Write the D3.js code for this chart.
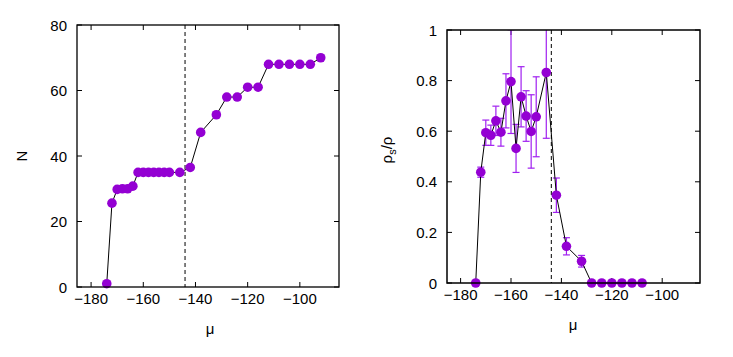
<!DOCTYPE html>
<html>
<head>
<meta charset="utf-8">
<script src="https://cdn.jsdelivr.net/npm/d3@7"></script>
<style>
  body { margin: 0; background: #fff; }
  svg text { font-family: "Liberation Sans", Arial, sans-serif; font-size: 15px; fill: #000; }
</style>
</head>
<body>
<svg id="chart" width="733" height="357"></svg>
<script>
// chemical potential values (shared by both panels)
const mu = [-174, -172, -170, -168, -166, -164, -162, -160, -158, -156, -154, -152, -150,
            -146, -142, -138, -132, -128, -124, -120, -116, -112, -108, -104, -100, -96, -92];
// left panel: particle number
const nValues = [1, 25.6, 29.8, 30, 30, 30.8, 35, 35, 35, 35, 35, 35, 35,
                 35, 36.5, 47.2, 52.6, 58, 58, 61, 61, 68, 68, 68, 68, 68, 70];
// right panel: superfluid fraction and its error
const muRho = mu.slice(0, 23);
const rhoValues = [0, 0.438, 0.594, 0.584, 0.641, 0.596, 0.720, 0.796, 0.532, 0.736, 0.660, 0.599, 0.657,
                   0.832, 0.347, 0.145, 0.086, 0, 0, 0, 0, 0, 0];
const rhoErrors = [0, 0.02, 0.05, 0.04, 0.058, 0.055, 0.107, 0.205, 0.095, 0.119, 0.10, 0.145, 0.158,
                   0.26, 0.068, 0.034, 0.023, 0, 0, 0, 0, 0, 0];
const xTicks = [-180, -160, -140, -120, -100];
const nTicks = [0, 20, 40, 60, 80];
const rhoTicks = [0, 0.2, 0.4, 0.6, 0.8, 1];
const transitionMu = -144;

const svg = d3.select('#chart');
const fmtMinus = v => String(v).replace('-', '\u2212');
const pointColor = '#9400d3';
const errColor = '#a020f0';

function panel(box, yDomain, yTicks, yFmt, id) {
  const x = d3.scaleLinear().domain([-185.4, -85]).range([box.x0, box.x1]);
  const y = d3.scaleLinear().domain(yDomain).range([box.y1, box.y0]);
  const g = svg.append('g');

  g.append('clipPath').attr('id', id).append('rect')
    .attr('x', box.x0).attr('y', box.y0)
    .attr('width', box.x1 - box.x0).attr('height', box.y1 - box.y0);

  // ticks, mirrored on all sides, pointing inward
  const tl = 5;
  xTicks.forEach(t => {
    g.append('line').attr('x1', x(t)).attr('x2', x(t)).attr('y1', box.y1).attr('y2', box.y1 - tl).attr('stroke', '#000');
    g.append('line').attr('x1', x(t)).attr('x2', x(t)).attr('y1', box.y0).attr('y2', box.y0 + tl).attr('stroke', '#000');
    g.append('text').attr('x', x(t)).attr('y', box.y1 + 17).attr('text-anchor', 'middle').text(fmtMinus(t));
  });
  yTicks.forEach(t => {
    g.append('line').attr('x1', box.x0).attr('x2', box.x0 + tl).attr('y1', y(t)).attr('y2', y(t)).attr('stroke', '#000');
    g.append('line').attr('x1', box.x1).attr('x2', box.x1 - tl).attr('y1', y(t)).attr('y2', y(t)).attr('stroke', '#000');
    g.append('text').attr('x', box.x0 - 10).attr('y', y(t) + 5.5).attr('text-anchor', 'end').text(yFmt(t));
  });

  // dashed transition line
  g.append('line')
    .attr('x1', x(transitionMu)).attr('x2', x(transitionMu))
    .attr('y1', box.y0).attr('y2', box.y1)
    .attr('stroke', '#000').attr('stroke-width', 1).attr('stroke-dasharray', '4,3');

  return { x, y, g };
}

// left panel
const left = panel({ x0: 77, x1: 339, y0: 25, y1: 287 }, [0, 80], nTicks, d => d, 'clipL');
const leftData = mu.map((m, i) => ({ m, v: nValues[i] }));
left.g.append('path').datum(leftData)
  .attr('fill', 'none').attr('stroke', '#000').attr('stroke-width', 1)
  .attr('d', d3.line().x(d => left.x(d.m)).y(d => left.y(d.v)));
left.g.selectAll('circle').data(leftData).enter().append('circle')
  .attr('cx', d => left.x(d.m)).attr('cy', d => left.y(d.v)).attr('r', 4.8).attr('fill', pointColor);
left.g.append('rect').attr('x', 77).attr('y', 25).attr('width', 262).attr('height', 262)
  .attr('fill', 'none').attr('stroke', '#000').attr('stroke-width', 1.3);
svg.append('text').attr('transform', 'translate(27,156) rotate(-90)').attr('text-anchor', 'middle').text('N');
svg.append('text').attr('x', 210).attr('y', 334).attr('text-anchor', 'middle').text('\u03bc');

// right panel
const right = panel({ x0: 447, x1: 700, y0: 30, y1: 283 }, [0, 1], rhoTicks, d => d, 'clipR');
const rightData = muRho.map((m, i) => ({ m, v: rhoValues[i], e: rhoErrors[i] }));
const errG = right.g.append('g').attr('clip-path', 'url(#clipR)')
  .attr('stroke', errColor).attr('stroke-width', 1.2);
rightData.filter(d => d.e > 0).forEach(d => {
  const cx = right.x(d.m);
  const ya = right.y(d.v + d.e), yb = right.y(d.v - d.e);
  errG.append('line').attr('x1', cx).attr('x2', cx).attr('y1', ya).attr('y2', yb);
  errG.append('line').attr('x1', cx - 3.5).attr('x2', cx + 3.5).attr('y1', ya).attr('y2', ya);
  errG.append('line').attr('x1', cx - 3.5).attr('x2', cx + 3.5).attr('y1', yb).attr('y2', yb);
});
right.g.append('path').datum(rightData)
  .attr('fill', 'none').attr('stroke', '#000').attr('stroke-width', 1)
  .attr('d', d3.line().x(d => right.x(d.m)).y(d => right.y(d.v)));
right.g.selectAll('circle').data(rightData).enter().append('circle')
  .attr('cx', d => right.x(d.m)).attr('cy', d => right.y(d.v)).attr('r', 4.8).attr('fill', pointColor);
right.g.append('rect').attr('x', 447).attr('y', 30).attr('width', 253).attr('height', 253)
  .attr('fill', 'none').attr('stroke', '#000').attr('stroke-width', 1.5);
const yl = svg.append('text').attr('transform', 'translate(392,150) rotate(-90)').attr('text-anchor', 'middle');
yl.append('tspan').text('\u03c1');
yl.append('tspan').attr('font-size', '11px').attr('dy', 4).text('s');
yl.append('tspan').attr('dy', -4).text('/\u03c1');
svg.append('text').attr('x', 573).attr('y', 330).attr('text-anchor', 'middle').text('\u03bc');
</script>
</body>
</html>
